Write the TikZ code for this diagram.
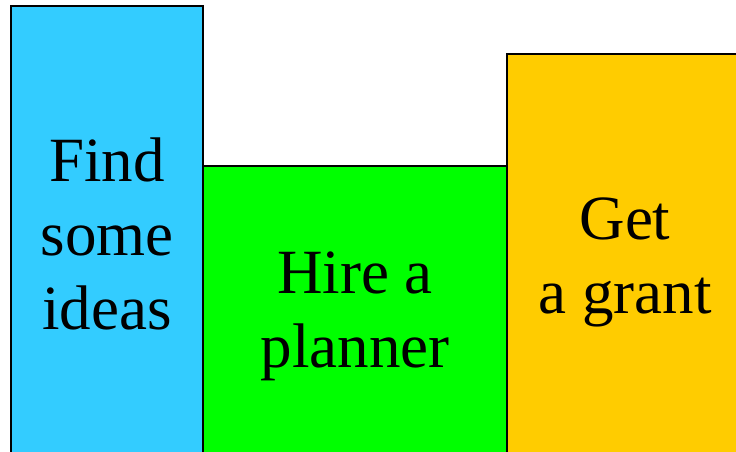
\documentclass[tikz,border=0pt]{standalone}
\usepackage{fontspec}
\setmainfont{Liberation Serif}
\usepackage{xcolor}
\usepackage{tikz}
\usetikzlibrary{positioning}
\definecolor{ideasblue}{RGB}{51,204,255}
\definecolor{plannergreen}{RGB}{0,255,0}
\definecolor{grantorange}{RGB}{255,204,0}

\begin{document}
\begin{tikzpicture}[x=1pt,y=1pt,
  bar/.style={draw,line width=1.2pt,anchor=north west,inner sep=0pt,outer sep=0pt,
    align=center,font=\fontsize{63}{74}\selectfont}]
  \clip (0,0) rectangle (736,-452);
  \node[bar,fill=ideasblue,minimum width=192,minimum height=456] (ideas) at (11,-6) {Find\\some\\ideas};
  \node[bar,fill=plannergreen,minimum width=304,minimum height=300] (planner) at (203,-166) {Hire a\\planner};
  \node[bar,fill=grantorange,minimum width=236,minimum height=416] (grant) at (507,-54) {Get\\a grant};
\end{tikzpicture}
\end{document}
